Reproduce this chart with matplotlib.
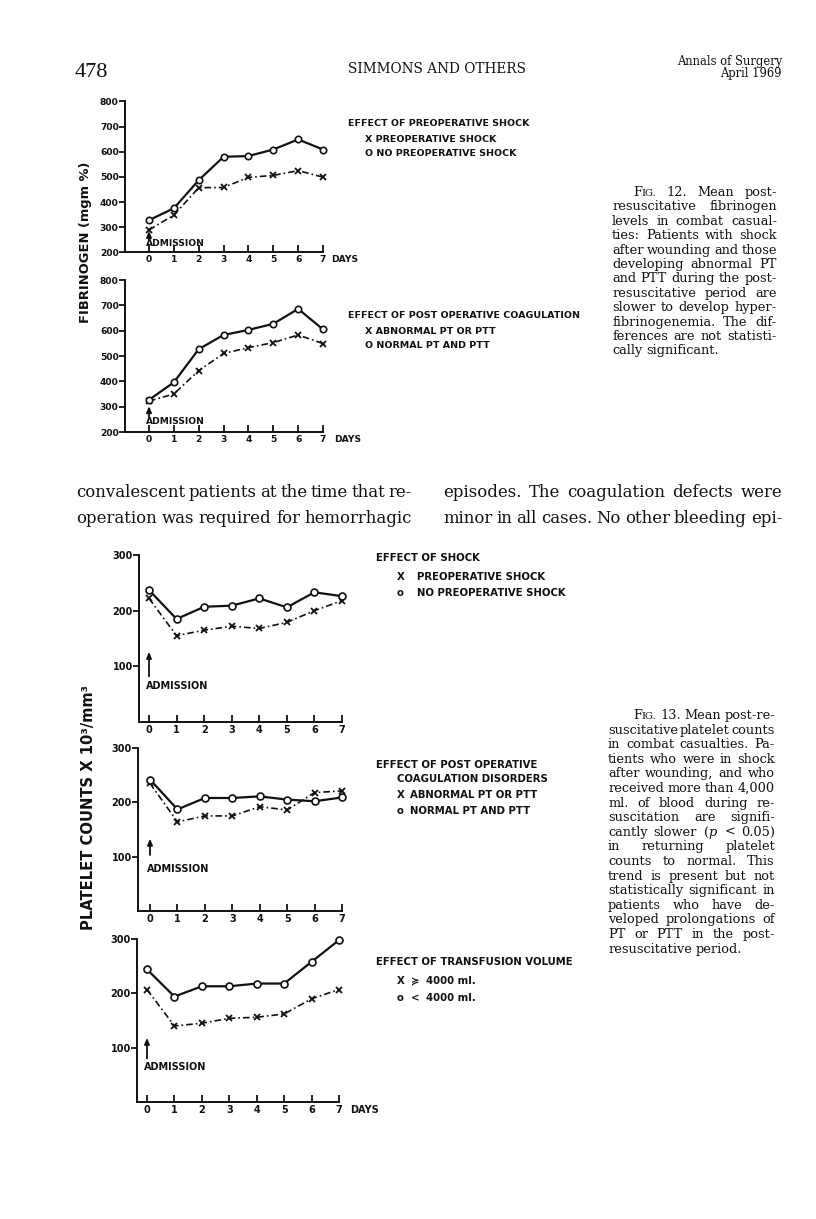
import matplotlib
matplotlib.use('Agg')
import matplotlib.pyplot as plt

W, H = 816, 1219
plt.rcParams['font.family'] = ['DejaVu Sans']
plt.rcParams['mathtext.fontset'] = 'dejavuserif'

# ---------------- data ----------------
days = [0, 1, 2, 3, 4, 5, 6, 7]
day_labels = ['0', '1', '2', '3', '4', '5', '6', '7']

fib_ticks = [200, 300, 400, 500, 600, 700, 800]
fib_shock = [289, 348, 457, 458, 498, 506, 525, 499]
fib_noshock = [328, 375, 487, 580, 583, 609, 649, 609]
fib_abnormal = [322, 350, 442, 510, 533, 553, 583, 549]
fib_normal = [327, 396, 527, 583, 603, 627, 686, 605]

plt_ticks = [100, 200, 300]
plt_shock = [222, 155, 165, 172, 168, 179, 200, 218]
plt_noshock = [237, 185, 207, 209, 222, 206, 233, 226]
plt_abnormal = [235, 164, 175, 175, 192, 186, 218, 221]
plt_normal = [242, 187, 208, 208, 211, 205, 202, 209]
plt_over4000 = [207, 140, 145, 154, 156, 162, 190, 207]
plt_under4000 = [244, 194, 213, 213, 218, 218, 258, 298]

fig = plt.figure(figsize=(W / 100, H / 100), dpi=100)
fig.patch.set_facecolor('white')
renderer = fig.canvas.get_renderer()

INK = '#111111'
LBL = dict(fontsize=6.8, fontweight='bold', color=INK, family='DejaVu Sans')


def add_panel(x_left, x_day0, x_day7, y_bottom, y_top, ylo, yhi, yticks, fs):
    step = (x_day7 - x_day0) / 7.0
    xmin = -(x_day0 - x_left) / step
    ax = fig.add_axes([x_left / W, 1 - y_bottom / H, (x_day7 - x_left) / W,
                       (y_bottom - y_top) / H])
    ax.set_xlim(xmin, 7)
    ax.set_ylim(ylo, yhi)
    for s in ('top', 'right'):
        ax.spines[s].set_visible(False)
    for s in ('left', 'bottom'):
        ax.spines[s].set_linewidth(1.4)
        ax.spines[s].set_color(INK)
    ax.set_xticks(days)
    ax.set_xticklabels(day_labels)
    ax.set_yticks(yticks)
    ax.set_yticklabels([str(v) for v in yticks])
    ax.tick_params(axis='x', direction='in', length=5, width=1.3, pad=2,
                   labelsize=fs, colors=INK)
    ax.tick_params(axis='y', direction='out', length=4, width=1.3, pad=0.5,
                   labelsize=fs, colors=INK)
    for lab in ax.get_xticklabels() + ax.get_yticklabels():
        lab.set_fontweight('bold')
    ax.patch.set_alpha(0)
    return ax


def draw_series(ax, x_vals, o_vals, ms_o=4.6):
    ax.plot(days, x_vals, color=INK, lw=1.2, ls=(0, (4.0, 1.8, 1.0, 1.8)),
            marker='x', ms=4.4, mew=1.3, clip_on=False, zorder=3)
    ax.plot(days, o_vals, color=INK, lw=1.6, ls='-', marker='o', ms=ms_o,
            mfc='white', mec=INK, mew=1.2, clip_on=False, zorder=4)


def admission(ax, y0, y1, ytext, xtext, fs):
    ax.annotate('', xy=(0, y1), xytext=(0, y0),
                arrowprops=dict(arrowstyle='-|>,head_length=0.35,head_width=0.15',
                                color=INK, lw=1.3, shrinkA=0, shrinkB=0))
    ax.text(xtext, ytext, 'ADMISSION', ha='left', va='center',
            fontsize=fs, fontweight='bold', color=INK)


def ftext(x, y, s, **kw):
    d = dict(LBL)
    d.update(kw)
    fig.text(x / W, 1 - y / H, s, va='center', ha='left', **d)


# ---------------- Fig. 12 ----------------
ax1 = add_panel(125, 149, 323, 252.3, 101.5, 200, 800, fib_ticks, 6.6)
draw_series(ax1, fib_shock, fib_noshock)
admission(ax1, 250, 285, 236, -0.12, 6.6)
ftext(331, 260, 'DAYS', fontsize=6.6)

ax2 = add_panel(125, 149, 323, 432, 280, 200, 800, fib_ticks, 6.6)
draw_series(ax2, fib_abnormal, fib_normal)
admission(ax2, 258, 302, 240, -0.12, 6.6)
ftext(334, 439, 'DAYS', fontsize=6.6)

ftext(348, 124, 'EFFECT OF PREOPERATIVE SHOCK')
ftext(365, 139, 'X PREOPERATIVE SHOCK')
ftext(365, 153, 'O NO PREOPERATIVE SHOCK')
ftext(348, 315, 'EFFECT OF POST OPERATIVE COAGULATION')
ftext(365, 331, 'X ABNORMAL PT OR PTT')
ftext(365, 346, 'O NORMAL PT AND PTT')

fig.text(86 / W, 1 - 242 / H, 'FIBRINOGEN (mgm %)', rotation=90, ha='center',
         va='center', fontsize=9.4, fontweight='bold', color=INK)

# ---------------- Fig. 13 ----------------
FS13 = 7.0
FL13 = 7.3
ax3 = add_panel(139, 149, 342, 722, 555, 0, 300, plt_ticks, FS13)
draw_series(ax3, plt_shock, plt_noshock, 5.0)
admission(ax3, 82, 126, 65, -0.1, FS13)

ax4 = add_panel(138, 150, 342, 911, 748, 0, 300, plt_ticks, FS13)
draw_series(ax4, plt_abnormal, plt_normal, 5.0)
admission(ax4, 103, 133, 78, -0.1, FS13)

ax5 = add_panel(137, 147, 339, 1102, 939, 0, 300, plt_ticks, FS13)
draw_series(ax5, plt_over4000, plt_under4000, 5.0)
admission(ax5, 80, 118, 64, -0.1, FS13)
ftext(350, 1110, 'DAYS', fontsize=FS13)

ftext(376, 558, 'EFFECT OF SHOCK', fontsize=FL13)
ftext(397, 577, 'X', fontsize=FL13)
ftext(417, 577, 'PREOPERATIVE SHOCK', fontsize=FL13)
ftext(397, 593, 'o', fontsize=FL13)
ftext(417, 593, 'NO PREOPERATIVE SHOCK', fontsize=FL13)

ftext(376, 765, 'EFFECT OF POST OPERATIVE', fontsize=FL13)
ftext(397, 779, 'COAGULATION DISORDERS', fontsize=FL13)
ftext(397, 795, 'X', fontsize=FL13)
ftext(410, 795, 'ABNORMAL PT OR PTT', fontsize=FL13)
ftext(397, 811, 'o', fontsize=FL13)
ftext(410, 811, 'NORMAL PT AND PTT', fontsize=FL13)

ftext(376, 962, 'EFFECT OF TRANSFUSION VOLUME', fontsize=FL13)
ftext(397, 981, 'X', fontsize=FL13)
ftext(411, 981, '\u227d', fontsize=FL13)
ftext(426, 981, '4000 ml.', fontsize=FL13)
ftext(397, 998, 'o', fontsize=FL13)
ftext(411, 998, '<', fontsize=FL13)
ftext(426, 998, '4000 ml.', fontsize=FL13)

fig.text(88 / W, 1 - 808 / H, 'PLATELET COUNTS X 10\u00b3/mm\u00b3', rotation=90,
         ha='center', va='center', fontsize=10.6, fontweight='bold', color=INK)

# ---------------- page text ----------------
SERIF = 'DejaVu Serif'


def word_width(w, size, family):
    if w == 'FIG.':
        return (word_width('F', size, family) + word_width('IG.', size * 0.78, family))
    t = fig.text(0, 0, w, fontsize=size, family=family)
    wd = t.get_window_extent(renderer).width
    t.remove()
    return wd


def draw_word(x, y, w, size, family):
    if w == 'FIG.':
        fig.text(x / W, 1 - y / H, 'F', fontsize=size, family=family,
                 va='baseline', ha='left', color=INK)
        x2 = x + word_width('F', size, family)
        fig.text(x2 / W, 1 - y / H, 'IG.', fontsize=size * 0.78, family=family,
                 va='baseline', ha='left', color=INK)
        return
    fig.text(x / W, 1 - y / H, w, fontsize=size, family=family,
             va='baseline', ha='left', color=INK)


def justify(lines, x0, x1, y_first, dy, size, family=SERIF, indent=0,
            justify_last=False):
    space = word_width('a a', size, family) - word_width('aa', size, family)
    for i, line in enumerate(lines):
        words = line.split()
        xs = x0 + (indent if i == 0 else 0)
        ws = [word_width(w, size, family) for w in words]
        last = (i == len(lines) - 1) and not justify_last
        if last or len(words) == 1:
            gap = space
        else:
            gap = (x1 - xs - sum(ws)) / (len(words) - 1)
        x = xs
        y = y_first + i * dy
        for w, wd in zip(words, ws):
            draw_word(x, y, w, size, family)
            x += wd + gap


cap12 = [
    'FIG. 12. Mean post-',
    'resuscitative fibrinogen',
    'levels in combat casual-',
    'ties: Patients with shock',
    'after wounding and those',
    'developing abnormal PT',
    'and PTT during the post-',
    'resuscitative period are',
    'slower to develop hyper-',
    'fibrinogenemia. The dif-',
    'ferences are not statisti-',
    'cally significant.',
]
cap13 = [
    'FIG. 13. Mean post-re-',
    'suscitative platelet counts',
    'in combat casualties. Pa-',
    'tients who were in shock',
    'after wounding, and who',
    'received more than 4,000',
    'ml. of blood during re-',
    'suscitation are signifi-',
    'cantly slower ($p$ < 0.05)',
    'in returning platelet',
    'counts to normal. This',
    'trend is present but not',
    'statistically significant in',
    'patients who have de-',
    'veloped prolongations of',
    'PT or PTT in the post-',
    'resuscitative period.',
]
justify(cap12, 612, 777, 196, 14.4, 9.25, indent=21)
justify(cap13, 608, 775, 719, 14.6, 9.25, indent=25)

body_left = ['convalescent patients at the time that re-',
             'operation was required for hemorrhagic']
body_right = ['episodes. The coagulation defects were',
              'minor in all cases. No other bleeding epi-']
justify(body_left, 76, 412, 497, 26, 11.9, justify_last=True)
justify(body_right, 443, 782, 497, 26, 11.9, justify_last=True)

fig.text(75 / W, 1 - 77 / H, '478', fontsize=16, family='Liberation Serif',
         ha='left', va='baseline', color=INK)
fig.text(437 / W, 1 - 73 / H, 'SIMMONS AND OTHERS', fontsize=9.8, family=SERIF,
         ha='center', va='baseline', color=INK)
fig.text(782 / W, 1 - 65 / H, 'Annals of Surgery', fontsize=8.3, family=SERIF,
         ha='right', va='baseline', color=INK)
fig.text(782 / W, 1 - 77 / H, 'April 1969', fontsize=8.3, family=SERIF,
         ha='right', va='baseline', color=INK)

fig.savefig('out.png', dpi=100, facecolor='white')
